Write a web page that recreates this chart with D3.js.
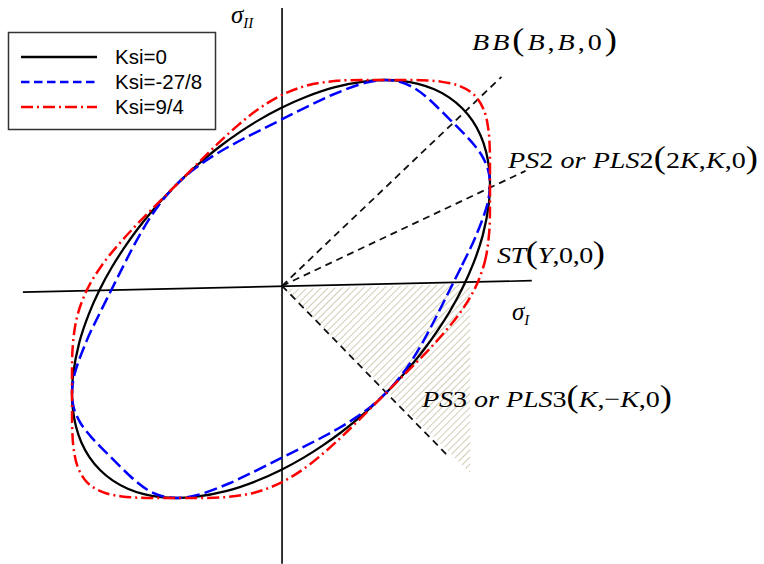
<!DOCTYPE html>
<html>
<head>
<meta charset="utf-8">
<script src="https://cdn.jsdelivr.net/npm/d3@7"></script>
<style>
  html, body { margin: 0; padding: 0; background: #fff; }
  svg { display: block; }
</style>
</head>
<body>
<svg id="chart" width="764" height="564"></svg>
<script>
// Yield loci in the (σI, σII) plane, in units of K (plane-strain / shear stress).
// Each locus is given as radius per polar angle (degrees, counter-clockwise from +σI).
const angles = [
  0, 7.5, 15, 22.5, 26.57, 30, 33.75, 37.5, 41.25, 45, 48.75, 52.5, 56.25, 60, 63.43, 67.5, 75, 82.5,
  90, 97.5, 105, 112.5, 120, 127.5, 135, 142.5, 150, 157.5, 165, 172.5,
  180, 187.5, 195, 202.5, 206.57, 210, 213.75, 217.5, 221.25, 225, 228.75, 232.5, 236.25, 240, 243.43, 247.5, 255, 262.5,
  270, 277.5, 285, 292.5, 300, 307.5, 315, 322.5, 330, 337.5, 345, 352.5
];
const ksi0 = [
  1.732, 1.856, 2.000, 2.154, 2.236, 2.300, 2.361, 2.409, 2.439, 2.449, 2.439, 2.409, 2.361, 2.300, 2.236, 2.154, 2.000, 1.856,
  1.732, 1.630, 1.549, 1.489, 1.447, 1.422, 1.414, 1.422, 1.447, 1.489, 1.549, 1.630,
  1.732, 1.856, 2.000, 2.154, 2.236, 2.300, 2.361, 2.409, 2.439, 2.449, 2.439, 2.409, 2.361, 2.300, 2.236, 2.154, 2.000, 1.856,
  1.732, 1.630, 1.549, 1.489, 1.447, 1.422, 1.414, 1.422, 1.447, 1.489, 1.549, 1.630
];
const ksiNeg = [
  1.619, 1.748, 1.927, 2.139, 2.236, 2.287, 2.308, 2.304, 2.294, 2.289, 2.294, 2.304, 2.308, 2.287, 2.236, 2.139, 1.927, 1.748,
  1.619, 1.532, 1.476, 1.442, 1.424, 1.416, 1.414, 1.416, 1.424, 1.442, 1.476, 1.532,
  1.619, 1.748, 1.927, 2.139, 2.236, 2.287, 2.308, 2.304, 2.294, 2.289, 2.294, 2.304, 2.308, 2.287, 2.236, 2.139, 1.927, 1.748,
  1.619, 1.532, 1.476, 1.442, 1.424, 1.416, 1.414, 1.416, 1.424, 1.442, 1.476, 1.532
];
const ksiPos = [
  1.853, 1.966, 2.062, 2.165, 2.236, 2.309, 2.403, 2.502, 2.586, 2.621, 2.586, 2.502, 2.403, 2.309, 2.236, 2.165, 2.062, 1.966,
  1.853, 1.730, 1.616, 1.527, 1.463, 1.426, 1.414, 1.426, 1.463, 1.527, 1.616, 1.730,
  1.853, 1.966, 2.062, 2.165, 2.236, 2.309, 2.403, 2.502, 2.586, 2.621, 2.586, 2.502, 2.403, 2.309, 2.236, 2.165, 2.062, 1.966,
  1.853, 1.730, 1.616, 1.527, 1.463, 1.426, 1.414, 1.426, 1.463, 1.527, 1.616, 1.730
];
const seriesNames = ["Ksi=0", "Ksi=-27/8", "Ksi=9/4"];

// Reference loading paths (end points in units of K), drawn from the origin
const pathNames = ["BB", "PS2", "PS3"];
const pathEnds = [[2.11, 2.03], [2.34, 1.13], [1.6, -1.6]];
// Axes end points (units of K)
const axisI = [[-2.47, -0.03], [2.4, 0.08]];
const axisII = [[0.01, -2.63], [0.01, 2.69]];
// Shaded region between the ST and PS3 directions
const shadeCorners = [[0.03, 0.0], [1.81, 0.05], [1.81, -1.76]];

const svg = d3.select("#chart");
const unit = 104.5;
const cx = 281, cy = 289;
const x = d3.scaleLinear().domain([-3, 3]).range([cx - 3 * unit, cx + 3 * unit]);
const y = d3.scaleLinear().domain([-3, 3]).range([cy + 3 * unit, cy - 3 * unit]);

// hatch pattern
const defs = svg.append("defs");
const pat = defs.append("pattern")
  .attr("id", "hatch").attr("patternUnits", "userSpaceOnUse")
  .attr("width", 5).attr("height", 5)
  .attr("patternTransform", "rotate(45)");
pat.append("line").attr("x1", 0).attr("y1", 0).attr("x2", 0).attr("y2", 5)
  .attr("stroke", "#c9c4ab").attr("stroke-width", 1.7);

svg.append("path")
  .attr("d", d3.line().x(d => x(d[0])).y(d => y(d[1]))(shadeCorners) + "Z")
  .attr("fill", "url(#hatch)");

// axes
[axisI, axisII].forEach(a => {
  svg.append("line")
    .attr("x1", x(a[0][0])).attr("y1", y(a[0][1]))
    .attr("x2", x(a[1][0])).attr("y2", y(a[1][1]))
    .attr("stroke", "#000").attr("stroke-width", 1.6);
});

// loading paths
const orig = [0.01, 0.03];
pathEnds.forEach(e => {
  svg.append("line")
    .attr("x1", x(orig[0])).attr("y1", y(orig[1]))
    .attr("x2", x(e[0])).attr("y2", y(e[1]))
    .attr("stroke", "#111").attr("stroke-width", 1.8)
    .attr("stroke-dasharray", "7,5");
});

// loci
const styles = [
  { r: ksi0, color: "#000000", dash: null, width: 2.3, legDash: null },
  { r: ksiNeg, color: "#0000ff", dash: "13,5", width: 2.5, legDash: "8.5,4.5" },
  { r: ksiPos, color: "#ff0000", dash: "12,4,2,4", width: 2.5, legDash: "12,4,2,4" }
];
const toXY = r => angles.map((a, i) => {
  const t = a * Math.PI / 180;
  return [r[i] * Math.cos(t), r[i] * Math.sin(t)];
});
const locus = d3.line().x(d => x(d[0])).y(d => y(d[1])).curve(d3.curveCatmullRomClosed.alpha(0.5));
styles.forEach(s => {
  svg.append("path")
    .attr("d", locus(toXY(s.r)))
    .attr("fill", "none")
    .attr("stroke", s.color)
    .attr("stroke-width", s.width)
    .attr("stroke-dasharray", s.dash);
});

// legend
const leg = svg.append("g");
leg.append("rect").attr("x", 8.5).attr("y", 32.5).attr("width", 207).attr("height", 97)
  .attr("fill", "#fff").attr("stroke", "#333").attr("stroke-width", 1.5);
styles.forEach((s, i) => {
  const ly = 57 + i * 25;
  leg.append("line").attr("x1", 21).attr("x2", 97).attr("y1", ly).attr("y2", ly)
    .attr("stroke", s.color).attr("stroke-width", 2.3).attr("stroke-dasharray", s.legDash);
  leg.append("text").attr("x", 115).attr("y", ly + 7)
    .attr("font-family", "Liberation Sans, Arial, sans-serif").attr("font-size", 20.5)
    .attr("fill", "#000").text(seriesNames[i]);
});

// annotations: italic math in a serif face, set a little wide
const serif = "Liberation Serif, Times New Roman, serif";
const stretch = 1.17;
function mathLabel(px, py, width, parts, size) {
  const t = svg.append("text")
    .attr("transform", `translate(${px},${py}) scale(${stretch},1)`)
    .attr("font-family", serif).attr("font-size", size).attr("fill", "#000")
    .attr("textLength", width / stretch).attr("lengthAdjust", "spacing");
  parts.forEach(p => {
    const ts = t.append("tspan").text(p.t);
    if (p.it) ts.attr("font-style", "italic");
    if (p.big) ts.attr("font-size", size * 1.3);
  });
  return t;
}
mathLabel(472, 50, 145, [
  { t: "BB", it: 1 }, { t: "(", big: 1 }, { t: "B", it: 1 }, { t: "," }, { t: "B", it: 1 },
  { t: "," }, { t: "0" }, { t: ")", big: 1 }], 24);
mathLabel(508, 168, 250, [
  { t: "PS", it: 1 }, { t: "2 " }, { t: "or", it: 1 }, { t: " PLS", it: 1 }, { t: "2" },
  { t: "(", big: 1 }, { t: "2" }, { t: "K", it: 1 }, { t: "," }, { t: "K", it: 1 }, { t: "," }, { t: "0" },
  { t: ")", big: 1 }], 24);
mathLabel(497, 263, 108, [
  { t: "ST", it: 1 }, { t: "(", big: 1 }, { t: "Y", it: 1 }, { t: ",0,0" }, { t: ")", big: 1 }], 24);
mathLabel(422, 407, 250, [
  { t: "PS", it: 1 }, { t: "3 " }, { t: "or", it: 1 }, { t: " PLS", it: 1 }, { t: "3" },
  { t: "(", big: 1 }, { t: "K", it: 1 }, { t: ",\u2212" }, { t: "K", it: 1 }, { t: ",0" },
  { t: ")", big: 1 }], 24);

// axis titles
function sigma(px, py, sub) {
  const t = svg.append("text").attr("x", px).attr("y", py)
    .attr("font-family", serif).attr("font-size", 25).attr("font-style", "italic");
  t.append("tspan").text("σ");
  t.append("tspan").attr("font-size", 15).attr("dy", 5).text(sub);
}
sigma(231, 23, "II");
sigma(512, 320, "I");
</script>
</body>
</html>
